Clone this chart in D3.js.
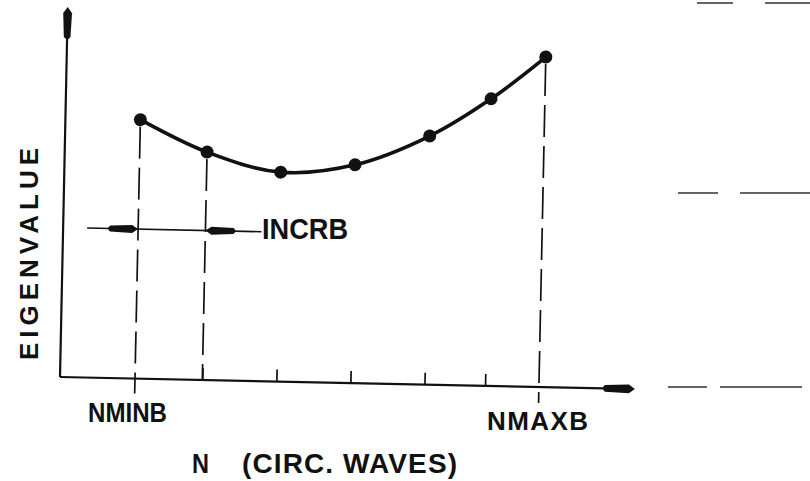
<!DOCTYPE html>
<html>
<head>
<meta charset="utf-8">
<script src="https://cdn.jsdelivr.net/npm/d3@7"></script>
<style>
  html, body { margin: 0; padding: 0; background: #fff; }
  svg { display: block; }
  text { font-family: "Liberation Sans", Arial, sans-serif; fill: #111; }
</style>
</head>
<body>
<svg id="chart" width="810" height="481"></svg>
<script>
// Circumferential wave number N (in units of INCRB steps from NMINB) and eigenvalue
const nValues = [0, 1, 2.1, 3.2, 4.3, 5.2, 6];
const eigenvalues = [7.0, 6.16, 5.66, 5.9, 6.72, 7.76, 8.92];
// Height of the INCRB dimension line on the eigenvalue scale
const incrLevel = [4.04];
// Labels
const boundLabels = ["NMINB", "NMAXB"];
const incrLabel = "INCRB";
const xTitleParts = ["N", "(CIRC. WAVES)"];
const yTitle = "EIGENVALUE";

const ink = "#111";
const svg = d3.select("#chart");

// Plot frame: origin at the axes' corner, hand-drawn slightly rotated
const origin = { x: 60, y: 377 };
const tilt = 1.2;
const xAxisLen = 575, yAxisLen = 370;

const x = d3.scaleLinear().domain([0, 6]).range([75, 479]);
const y = d3.scaleLinear().domain([0, 10]).range([0, -yAxisLen]);

const plot = svg.append("g")
  .attr("transform", `translate(${origin.x},${origin.y}) rotate(${tilt})`);

// Axes lines
plot.append("line").attr("x1", 0).attr("y1", 0).attr("x2", xAxisLen - 20).attr("y2", 0)
  .attr("stroke", ink).attr("stroke-width", 2.2);
plot.append("line").attr("x1", 0).attr("y1", 0).attr("x2", 0).attr("y2", -yAxisLen + 20)
  .attr("stroke", ink).attr("stroke-width", 2.2);

// Long, narrow, filled arrowheads
function arrow(tipX, tipY, dx, dy, len, half) {
  const bx = tipX - dx * len, by = tipY - dy * len;
  const px = -dy * half, py = dx * half;
  const mx = tipX - dx * 6, my = tipY - dy * 6;
  return `M${tipX},${tipY} L${mx + px * 0.8},${my + py * 0.8} L${bx + px * 0.6},${by + py * 0.6}` +
    ` Q${bx - dx * 4},${by - dy * 4} ${bx - px * 0.6},${by - py * 0.6} L${mx - px * 0.8},${my - py * 0.8} Z`;
}
plot.append("path").attr("d", arrow(xAxisLen, 0, 1, 0, 30, 5.5)).attr("fill", ink);
plot.append("path").attr("d", arrow(0, -yAxisLen, 0, -1, 30, 5.5)).attr("fill", ink);

// Tick marks on the N axis
const xAxis = d3.axisTop(x).tickValues(nValues.slice(1, -1)).tickSize(12).tickFormat("");
const ax = plot.append("g").call(xAxis);
ax.select(".domain").remove();
ax.selectAll(".tick line").attr("stroke", ink).attr("stroke-width", 1.7);

// Dashed extension lines from the points down to the axis
const ext = [
  { n: nValues[0], e: eigenvalues[0], below: 15 },
  { n: nValues[1], e: eigenvalues[1], below: 0 },
  { n: nValues[nValues.length - 1], e: eigenvalues[eigenvalues.length - 1], below: 16 }
];
plot.selectAll("line.ext").data(ext).join("line")
  .attr("class", "ext")
  .attr("x1", d => x(d.n)).attr("x2", d => x(d.n))
  .attr("y1", d => y(d.e) + 7).attr("y2", d => d.below)
  .attr("stroke", ink).attr("stroke-width", 1.7)
  .attr("stroke-dasharray", "32,9");

// INCRB dimension line with arrowheads pointing at the extension lines
const dimY = y(incrLevel[0]);
plot.append("line")
  .attr("x1", x(nValues[0]) - 51).attr("x2", x(nValues[1]) + 56)
  .attr("y1", dimY).attr("y2", dimY)
  .attr("stroke", ink).attr("stroke-width", 1.6);
plot.append("path").attr("d", arrow(x(nValues[0]), dimY, 1, 0, 28, 5)).attr("fill", ink);
plot.append("path").attr("d", arrow(x(nValues[1]), dimY, -1, 0, 28, 5)).attr("fill", ink);

// Eigenvalue curve and points
const pts = nValues.map((n, i) => [n, eigenvalues[i]]);
const line = d3.line().x(d => x(d[0])).y(d => y(d[1])).curve(d3.curveCatmullRom.alpha(0.5));
plot.append("path").attr("d", line(pts))
  .attr("fill", "none").attr("stroke", ink).attr("stroke-width", 3.6)
  .attr("stroke-linecap", "round");
plot.selectAll("circle.pt").data(pts).join("circle")
  .attr("class", "pt")
  .attr("cx", d => x(d[0])).attr("cy", d => y(d[1])).attr("r", 6.5)
  .attr("fill", ink);

// Labels
svg.append("text").text(boundLabels[0])
  .attr("x", 88).attr("y", 422)
  .attr("textLength", 79).attr("lengthAdjust", "spacingAndGlyphs")
  .attr("font-size", 27).attr("font-weight", "bold");
svg.append("text").text(boundLabels[1])
  .attr("x", 487).attr("y", 430)
  .attr("textLength", 101).attr("lengthAdjust", "spacing")
  .attr("font-size", 26).attr("font-weight", "bold");
svg.append("text").text(incrLabel)
  .attr("x", 262).attr("y", 239)
  .attr("textLength", 86).attr("lengthAdjust", "spacingAndGlyphs")
  .attr("font-size", 29).attr("font-weight", "bold");

svg.append("text").text(xTitleParts[0])
  .attr("x", 192).attr("y", 473)
  .attr("textLength", 17).attr("lengthAdjust", "spacingAndGlyphs")
  .attr("font-size", 28).attr("font-weight", "bold");
svg.append("text").text(xTitleParts[1])
  .attr("x", 242).attr("y", 473)
  .attr("textLength", 215).attr("lengthAdjust", "spacing")
  .attr("font-size", 28).attr("font-weight", "bold");

svg.append("text").text(yTitle)
  .attr("transform", "translate(38,254) rotate(-90)")
  .attr("text-anchor", "middle")
  .attr("textLength", 212).attr("lengthAdjust", "spacing")
  .attr("font-size", 26).attr("font-weight", "bold");

// Rule fragments along the right margin of the sheet
const marginRules = [
  [697, 733, 3], [765, 810, 3],
  [678, 718, 193], [740, 810, 193],
  [668, 707, 387], [720, 802, 387]
];
svg.selectAll("line.rule").data(marginRules).join("line")
  .attr("class", "rule")
  .attr("x1", d => d[0]).attr("x2", d => d[1])
  .attr("y1", d => d[2]).attr("y2", d => d[2])
  .attr("stroke", "#333").attr("stroke-width", 1.5);
</script>
</body>
</html>
